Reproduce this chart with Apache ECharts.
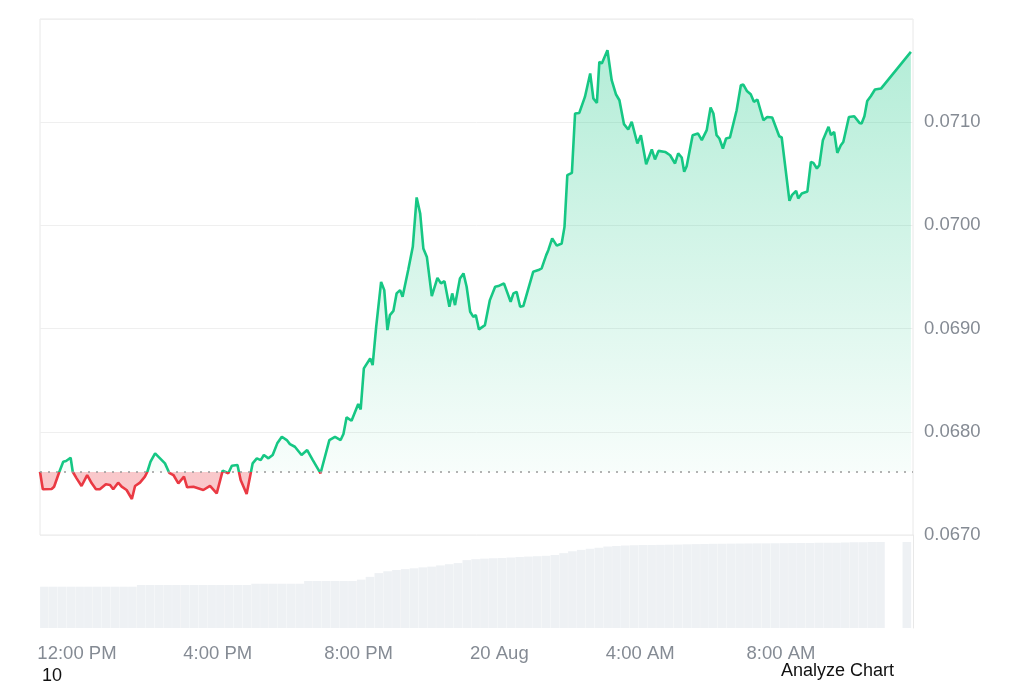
<!DOCTYPE html>
<html>
<head>
<meta charset="utf-8">
<script src="https://cdn.jsdelivr.net/npm/echarts@6/dist/echarts.min.js"></script>
<style>
  html, body { margin: 0; padding: 0; background: #fff; }
  #chart { width: 1024px; height: 683px; }
</style>
</head>
<body>
<div id="chart"></div>
<script>
// price samples: hours since 19 Aug 00:00
const priceHours = [
  10.95, 11.03, 11.28, 11.35, 11.50, 11.61, 11.69, 11.73, 11.82, 11.88,
  11.99, 12.13, 12.29, 12.42, 12.54, 12.65, 12.82, 12.94, 13.03, 13.17,
  13.27, 13.41, 13.56, 13.65, 13.79, 13.93, 14.00, 14.09, 14.22, 14.36,
  14.50, 14.62, 14.74, 14.88, 15.04, 15.13, 15.31, 15.59, 15.78, 15.97,
  16.14, 16.30, 16.40, 16.56, 16.65, 16.82, 16.99, 17.11, 17.22, 17.31,
  17.44, 17.56, 17.69, 17.82, 17.96, 18.05, 18.19, 18.38, 18.54, 18.70,
  18.92, 19.17, 19.33, 19.49, 19.57, 19.66, 19.80, 19.99, 20.06, 20.15,
  20.33, 20.40, 20.50, 20.64, 20.73, 20.82, 20.89, 20.99, 21.08, 21.18,
  21.25, 21.41, 21.54, 21.65, 21.75, 21.84, 21.94, 22.08, 22.24, 22.34,
  22.44, 22.58, 22.66, 22.74, 22.88, 22.98, 23.07, 23.17, 23.26, 23.33,
  23.42, 23.59, 23.73, 23.88, 23.97, 24.13, 24.32, 24.40, 24.49, 24.59,
  24.68, 24.96, 25.11, 25.20, 25.33, 25.39, 25.50, 25.63, 25.77, 25.85,
  25.93, 26.06, 26.15, 26.27, 26.43, 26.58, 26.67, 26.77, 26.84, 26.91,
  27.07, 27.19, 27.31, 27.41, 27.54, 27.66, 27.76, 27.92, 28.02, 28.17,
  28.33, 28.42, 28.52, 28.71, 28.85, 28.99, 29.08, 29.18, 29.25, 29.32,
  29.49, 29.64, 29.75, 29.89, 30.00, 30.08, 30.17, 30.25, 30.35, 30.44,
  30.55, 30.74, 30.86, 30.93, 31.03, 31.14, 31.23, 31.33, 31.50, 31.61,
  31.75, 31.95, 32.02, 32.24, 32.31, 32.43, 32.49, 32.59, 32.75, 32.85,
  32.92, 33.02, 33.09, 33.19, 33.35, 33.42, 33.51, 33.60, 33.70, 33.77,
  33.93, 34.08, 34.23, 34.29, 34.37, 34.45, 34.55, 34.67, 34.84, 35.69
];
const priceValues = [
  0.067613, 0.067443, 0.067446, 0.067468, 0.067613, 0.067710, 0.067717, 0.067700, 0.067749, 0.067613,
  0.067549, 0.067475, 0.067581, 0.067501, 0.067443, 0.067443, 0.067491, 0.067484, 0.067443, 0.067507,
  0.067468, 0.067436, 0.067349, 0.067475, 0.067507, 0.067565, 0.067613, 0.067710, 0.067791, 0.067743,
  0.067694, 0.067603, 0.067581, 0.067501, 0.067565, 0.067462, 0.067468, 0.067436, 0.067475, 0.067404,
  0.067623, 0.067598, 0.067671, 0.067678, 0.067533, 0.067397, 0.067694, 0.067743, 0.067726, 0.067775,
  0.067743, 0.067775, 0.067888, 0.067952, 0.067920, 0.067881, 0.067855, 0.067775, 0.067823, 0.067726,
  0.067598, 0.067920, 0.067952, 0.067920, 0.067978, 0.068140, 0.068107, 0.068269, 0.068217, 0.068615,
  0.068711, 0.068646, 0.069017, 0.069453, 0.069373, 0.068985, 0.069131, 0.069172, 0.069341, 0.069373,
  0.069308, 0.069567, 0.069792, 0.070271, 0.070116, 0.069777, 0.069695, 0.069315, 0.069492, 0.069438,
  0.069460, 0.069211, 0.069341, 0.069228, 0.069486, 0.069535, 0.069405, 0.069163, 0.069114, 0.069131,
  0.068992, 0.069034, 0.069276, 0.069405, 0.069412, 0.069438, 0.069260, 0.069341, 0.069356, 0.069211,
  0.069218, 0.069550, 0.069567, 0.069583, 0.069712, 0.069760, 0.069874, 0.069804, 0.069825, 0.069986,
  0.070487, 0.070509, 0.071084, 0.071090, 0.071245, 0.071472, 0.071230, 0.071187, 0.071584, 0.071569,
  0.071697, 0.071407, 0.071271, 0.071213, 0.070981, 0.070929, 0.071003, 0.070794, 0.070874, 0.070593,
  0.070736, 0.070639, 0.070722, 0.070712, 0.070680, 0.070600, 0.070697, 0.070658, 0.070519, 0.070574,
  0.070874, 0.070891, 0.070826, 0.070923, 0.071142, 0.071084, 0.070874, 0.070842, 0.070745, 0.070842,
  0.070852, 0.071116, 0.071358, 0.071365, 0.071303, 0.071271, 0.071197, 0.071220, 0.071019, 0.071051,
  0.071045, 0.070864, 0.070852, 0.070238, 0.070293, 0.070335, 0.070261, 0.070309, 0.070329, 0.070616,
  0.070606, 0.070552, 0.070584, 0.070826, 0.070955, 0.070874, 0.070906, 0.070703, 0.070777, 0.070809,
  0.071051, 0.071058, 0.070993, 0.070987, 0.071058, 0.071206, 0.071252, 0.071317, 0.071326, 0.071681
];
const openPrice = 0.067613;

// volume in 15 minute bins from the first sample
const volStart = 10.95;
const volStep = 0.25;
const volumeValues = [
  44.4, 44.4, 44.4, 44.4, 44.4, 44.4, 44.4, 44.4, 44.4, 44.4, 44.4,
  46.2, 46.2, 46.2, 46.2, 46.2, 46.2, 46.2, 46.2, 46.2, 46.2, 46.2, 46.2, 46.2,
  47.6, 47.6, 47.6, 47.6, 47.6, 47.6,
  50.5, 50.5, 50.5, 50.5, 50.5, 50.5,
  52, 55, 59, 61, 62.4, 63.3, 64.2, 65.2, 66, 67.3, 68.6, 69.8,
  73, 74, 74.6, 75, 75.3, 75.8, 76.3, 76.8, 77.2, 77.6,
  78.5, 80.5, 82.5, 84, 85.2, 86.3, 87.6, 88.2, 88.7, 89, 89.2, 89.2, 89.4, 89.6, 89.7, 90, 90.2, 90.3,
  90.5, 90.6, 90.7, 90.8, 90.9, 91, 91, 91.1, 91.2,
  91.3, 91.4, 91.5, 91.6, 91.7, 91.8, 92, 92.1, 92.3, 92.5,
  92.5, 0, 0, 92.5
];

const xMin = 10.95;
const xMax = 35.75;
const xTickHours = [12, 16, 20, 24, 28, 32];
const xTickLabels = ['12:00 PM', '4:00 PM', '8:00 PM', '20 Aug', '4:00 AM', '8:00 AM'];

const green = '#16c784';
const red = '#ea3943';
const font = 'Liberation Sans, Arial, sans-serif';

const priceData = priceHours.map((h, i) => [h, priceValues[i]]);
const volumeData = volumeValues.map((v, i) => [volStart + volStep * (i + 0.5), v]);

// where the open price sits inside the area's vertical extent
const hi = Math.max(...priceValues);
const lo = Math.min(...priceValues);
const split = (hi - openPrice) / (hi - lo);

const chart = echarts.init(document.getElementById('chart'));

const option = {
  animation: false,
  backgroundColor: '#fff',
  textStyle: {fontFamily: font},
  grid: [
    {left: 40, right: 111, top: 19, height: 516, show: true, borderColor: '#e8e8e8', borderWidth: 1},
    {left: 40, right: 111, top: 535, height: 93}
  ],
  xAxis: [
    {
      type: 'value', gridIndex: 0, min: xMin, max: xMax,
      axisLine: {show: false}, axisTick: {show: false}, axisLabel: {show: false}, splitLine: {show: false}
    },
    {
      type: 'value', gridIndex: 1, min: xMin, max: xMax,
      axisLine: {show: false}, axisTick: {show: false}, splitLine: {show: false},
      axisLabel: {
        customValues: xTickHours,
        formatter: v => xTickLabels[xTickHours.indexOf(v)],
        color: '#858b94', fontSize: 18.5, margin: 16, fontFamily: font
      }
    }
  ],
  yAxis: [
    {
      type: 'value', gridIndex: 0, position: 'right',
      min: 0.067, max: 0.072, interval: 0.001,
      axisLine: {show: false}, axisTick: {show: false},
      axisLabel: {
        formatter: v => v.toFixed(4), showMaxLabel: false,
        color: '#858b94', fontSize: 18.5, margin: 11, fontFamily: font
      },
      splitLine: {lineStyle: {color: '#efefef', width: 1}}
    },
    {
      type: 'value', gridIndex: 1, position: 'right', min: 0, max: 100,
      axisLine: {show: true, lineStyle: {color: '#e8e8e8'}},
      axisTick: {show: false}, axisLabel: {show: false}, splitLine: {show: false}
    }
  ],
  visualMap: {
    show: false,
    type: 'piecewise',
    seriesIndex: 0,
    dimension: 1,
    pieces: [
      {gte: 0.06, lt: openPrice, color: red},
      {gte: openPrice, lte: 0.08, color: green}
    ]
  },
  series: [
    {
      name: 'Price',
      type: 'line',
      xAxisIndex: 0,
      yAxisIndex: 0,
      data: priceData,
      symbol: 'none',
      lineStyle: {width: 2.6},
      areaStyle: {
        origin: openPrice,
        opacity: 1,
        color: new echarts.graphic.LinearGradient(0, 0, 0, 1, [
          {offset: 0, color: 'rgba(22,199,132,0.32)'},
          {offset: split, color: 'rgba(22,199,132,0.03)'},
          {offset: split, color: 'rgba(234,57,67,0.28)'},
          {offset: 1, color: 'rgba(234,57,67,0.28)'}
        ])
      },
      markLine: {
        silent: true,
        precision: 6,
        symbol: ['none', 'none'],
        label: {show: false},
        lineStyle: {color: '#9a9a9a', type: [2, 6], width: 1.5},
        data: [{yAxis: openPrice}]
      },
      z: 3
    },
    {
      name: 'Volume',
      type: 'bar',
      xAxisIndex: 1,
      yAxisIndex: 1,
      data: volumeData,
      barWidth: 8.6,
      silent: true,
      itemStyle: {color: '#eef1f4'}
    }
  ],
  graphic: [
    {type: 'text', left: 42, top: 667, style: {text: '10', fill: '#111', font: '18px ' + font}},
    {type: 'text', left: 781, top: 662, style: {text: 'Analyze Chart', fill: '#111', font: '18px ' + font}}
  ]
};

if (option && typeof option === 'object') {
  chart.setOption(option, false);
}
</script>
</body>
</html>
